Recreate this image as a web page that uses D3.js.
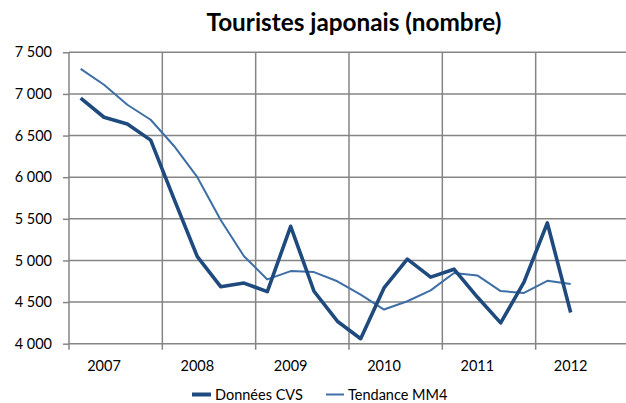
<!DOCTYPE html>
<html>
<head>
<meta charset="utf-8">
<script src="https://cdn.jsdelivr.net/npm/d3@7"></script>
<style>
  html, body { margin: 0; padding: 0; background: #fff; }
  svg { display: block; }
  text { font-family: Lato, "Open Sans", sans-serif; fill: #000; }
</style>
</head>
<body>
<svg id="chart" width="626" height="403"></svg>
<script>
// Quarterly tourist counts, 2007 Q1 – 2012 Q2
const years = ["2007", "2008", "2009", "2010", "2011", "2012"];
const quartersPerYear = 4;
const cvs = [6950, 6720, 6640, 6445, 5740, 5045, 4685, 4728, 4625, 5410, 4630, 4270,
             4060, 4670, 5015, 4800, 4895, 4560, 4250, 4740, 5450, 4375];
const mm4 = [7300, 7110, 6870, 6690, 6375, 6000, 5485, 5050, 4772, 4872, 4860, 4750,
             4590, 4410, 4510, 4640, 4850, 4820, 4632, 4610, 4755, 4718];
const yTicks = [4000, 4500, 5000, 5500, 6000, 6500, 7000, 7500];
const seriesNames = ["Données CVS", "Tendance MM4"];

const svg = d3.select("#chart");
const margin = { left: 69, right: 629, top: 52.3, bottom: 343.7 };
const gridColor = "#858585";
const gridWidth = 1.5;
const colCvs = "#1f4a7d";
const colMm4 = "#3e6ea6";

const nSlots = years.length * quartersPerYear;
const x = d3.scaleBand().domain(d3.range(nSlots)).range([margin.left, margin.right]).padding(0);
const y = d3.scaleLinear().domain([4000, 7500]).range([margin.bottom, margin.top]);
const cx = i => x(i) + x.bandwidth() / 2;

const fr = d3.formatLocale({ decimal: ",", thousands: " ", grouping: [3], currency: ["", " €"] });
const fmt = fr.format(",d");

// horizontal gridlines
svg.append("g").selectAll("line").data(yTicks).join("line")
  .attr("x1", margin.left).attr("x2", margin.right)
  .attr("y1", d => y(d)).attr("y2", d => y(d))
  .attr("stroke", gridColor).attr("stroke-width", gridWidth);

// vertical gridlines at each year boundary
const yearEdges = d3.range(years.length).map(k => k * quartersPerYear);
svg.append("g").selectAll("line").data(yearEdges).join("line")
  .attr("x1", d => x(d)).attr("x2", d => x(d))
  .attr("y1", margin.top).attr("y2", margin.bottom + 6)
  .attr("stroke", gridColor).attr("stroke-width", gridWidth);

// y axis
const yAxis = svg.append("g")
  .attr("transform", `translate(${margin.left},0)`)
  .call(d3.axisLeft(y).tickValues(yTicks).tickFormat(fmt).tickSize(6).tickPadding(11));
yAxis.select(".domain").remove();
yAxis.selectAll(".tick line").attr("stroke", gridColor).attr("stroke-width", gridWidth);
yAxis.selectAll(".tick text").attr("font-size", 14.5).attr("font-family", "Lato, sans-serif").attr("fill", "#000");

// x axis labels, one per year
const xAxis = svg.append("g")
  .attr("transform", `translate(0,${margin.bottom})`)
  .call(d3.axisBottom(x)
    .tickValues(years.map((_, k) => k * quartersPerYear + 1))
    .tickFormat(i => years[Math.floor(i / quartersPerYear)])
    .tickSize(0).tickPadding(17));
xAxis.select(".domain").remove();
xAxis.selectAll(".tick text").attr("font-size", 14.5).attr("font-family", "Lato, sans-serif").attr("fill", "#000");

// series lines
const line = d3.line().x((d, i) => cx(i)).y(d => y(d)).curve(d3.curveLinear);
svg.append("path").datum(mm4).attr("d", line)
  .attr("fill", "none").attr("stroke", colMm4).attr("stroke-width", 2)
  .attr("stroke-linejoin", "round");
svg.append("path").datum(cvs).attr("d", line)
  .attr("fill", "none").attr("stroke", colCvs).attr("stroke-width", 3.6)
  .attr("stroke-linejoin", "round");

// title
const title = svg.append("text")
  .attr("x", 354).attr("y", 31).attr("text-anchor", "middle")
  .attr("font-weight", "bold").attr("font-size", 20)
  .text("Touristes japonais (nombre)");
const tw = title.node().getComputedTextLength();
title.attr("font-size", 20 * 295 / tw);

// legend
const legend = svg.append("g");
const items = [
  { name: seriesNames[0], color: colCvs, width: 4, x0: 192, len: 19 },
  { name: seriesNames[1], color: colMm4, width: 2, x0: 326, len: 18 }
];
items.forEach(it => {
  legend.append("line")
    .attr("x1", it.x0).attr("x2", it.x0 + it.len)
    .attr("y1", 394.5).attr("y2", 394.5)
    .attr("stroke", it.color).attr("stroke-width", it.width);
  legend.append("text")
    .attr("x", it.x0 + it.len + 4).attr("y", 400)
    .attr("font-size", 14.5)
    .text(it.name);
});
</script>
</body>
</html>
